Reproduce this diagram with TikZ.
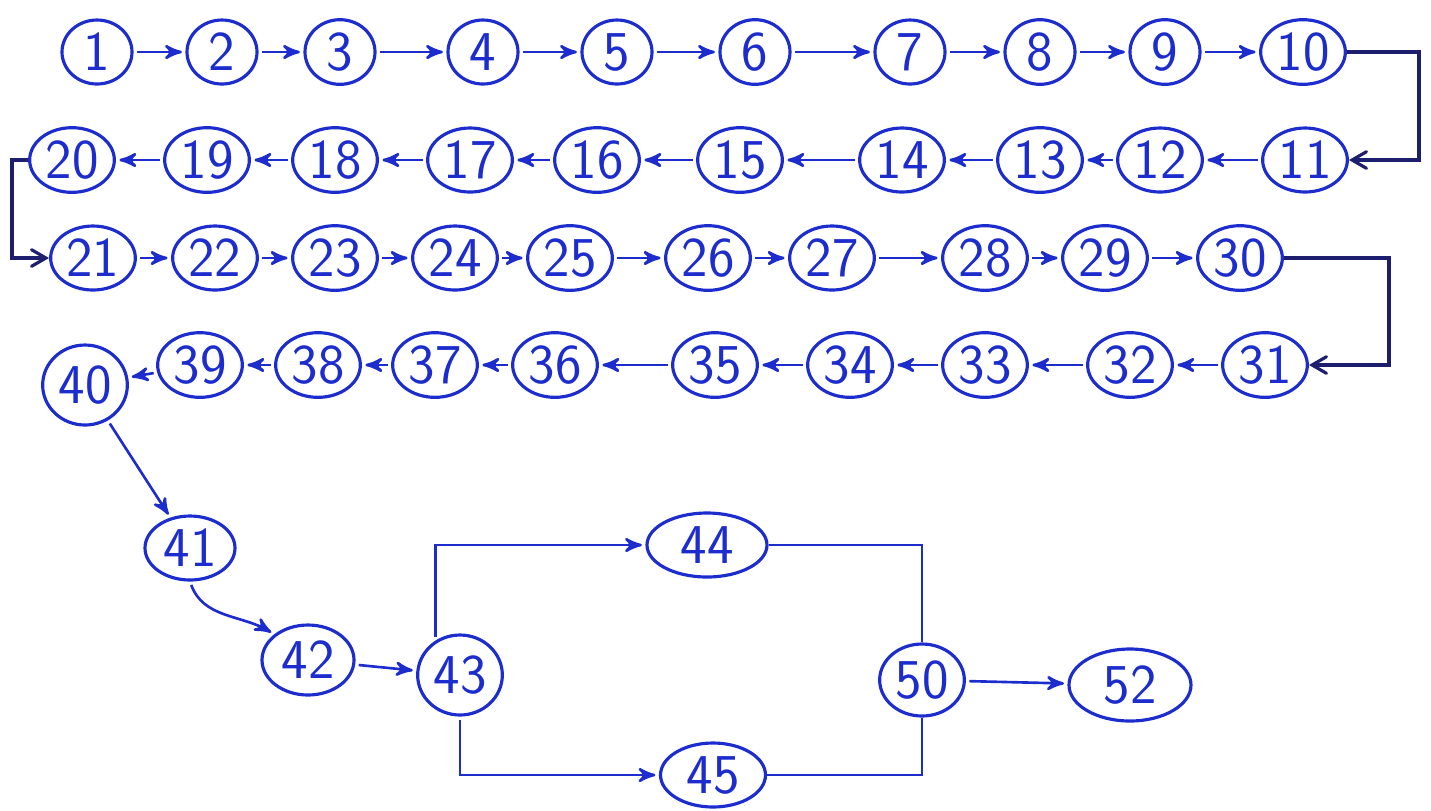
\documentclass[tikz,border=0pt]{standalone}
\usepackage{tikz}
\usetikzlibrary{arrows}
\usetikzlibrary{shapes.geometric}
\usetikzlibrary{positioning}

\definecolor{ink}{RGB}{28,44,205}
\definecolor{darkink}{RGB}{30,30,110}

\tikzset{
  event/.style={ellipse, draw=ink, line width=0.9pt, text=ink, inner sep=1pt,
    minimum width=0.7cm, minimum height=0.64cm, font=\sffamily\fontsize{16}{18}\selectfont},
  link/.style={->, >=stealth', draw=ink, line width=0.75pt, shorten >=1pt, shorten <=1pt},
  bracket/.style={->, >=angle 60, draw=darkink, line width=0.9pt},
  plain/.style={draw=ink, line width=0.75pt}
}

\begin{document}
\begin{tikzpicture}
  \useasboundingbox (0, 0) rectangle (14.31, -8.10);

  % first row, left to right
  \foreach \i/\x in {1/0.97, 2/2.22, 3/3.40, 4/4.83, 5/6.17, 6/7.55, 7/9.10, 8/10.40, 9/11.65, 10/13.03}
    \node [event] (n\i) at (\x, -0.52) {\i};

  % second row, right to left
  \foreach \i/\x in {11/13.05, 12/11.60, 13/10.40, 14/9.02, 15/7.40, 16/5.97, 17/4.70, 18/3.35, 19/2.07, 20/0.72}
    \node [event] (n\i) at (\x, -1.60) {\i};

  % third row
  \foreach \i/\x in {21/0.93, 22/2.15, 23/3.35, 24/4.55, 25/5.70, 26/7.08, 27/8.32, 28/9.85, 29/11.05, 30/12.40}
    \node [event] (n\i) at (\x, -2.58) {\i};

  % fourth row
  \foreach \i/\x in {31/12.65, 32/11.30, 33/9.85, 34/8.50, 35/7.15, 36/5.55, 37/4.35, 38/3.18, 39/2.00}
    \node [event] (n\i) at (\x, -3.65) {\i};
  \node [event, minimum height=0.8cm] (n40) at (0.85, -3.85) {40};

  % lower part
  \node [event, minimum width=0.9cm] (n41) at (1.90, -5.48) {41};
  \node [event, minimum width=0.92cm, minimum height=0.7cm] (n42) at (3.08, -6.60) {42};
  \node [event, minimum width=0.8cm, minimum height=0.8cm] (n43) at (4.60, -6.75) {43};
  \node [event, minimum width=1.2cm] (n44) at (7.07, -5.45) {44};
  \node [event, minimum width=1.05cm] (n45) at (7.13, -7.75) {45};
  \node [event, minimum width=0.78cm, minimum height=0.72cm] (n50) at (9.22, -6.80) {50};
  \node [event, minimum width=1.22cm, minimum height=0.72cm] (n52) at (11.30, -6.85) {52};

  \foreach \a/\b in {1/2, 2/3, 3/4, 4/5, 5/6, 6/7, 7/8, 8/9, 9/10,
                     11/12, 12/13, 13/14, 14/15, 15/16, 16/17, 17/18, 18/19, 19/20,
                     21/22, 22/23, 23/24, 24/25, 25/26, 26/27, 27/28, 28/29, 29/30,
                     31/32, 32/33, 33/34, 34/35, 35/36, 36/37, 37/38, 38/39, 39/40,
                     40/41, 42/43, 50/52}
    \draw [link] (n\a) -- (n\b);

  % turns between the rows
  \draw [bracket] (n10.east) -- ++(0.72, 0) |- (n11.east);
  \draw [bracket] (n20.west) -- (0.12, -1.60) |- (n21.west);
  \draw [bracket] (n30.east) -- ++(1.05, 0) |- (n31.east);

  \draw [link] (n41.south) to [out=-70, in=150] (n42.north west);

  % the two branches
  \draw [link] (n43.125) |- (n44.west);
  \draw [link] (n43.south) |- (n45.west);
  \draw [plain] (n44.east) -| (n50.north);
  \draw [plain] (n45.east) -| (n50.south);
\end{tikzpicture}
\end{document}
